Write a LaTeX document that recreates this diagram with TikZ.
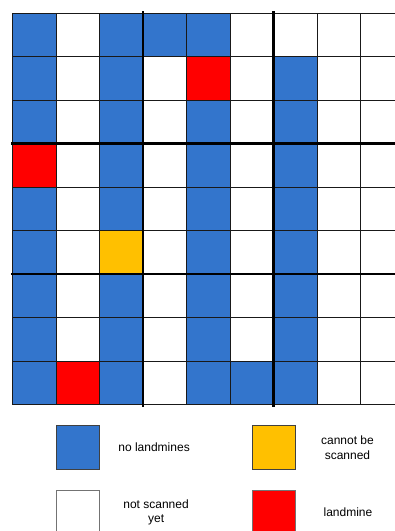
\documentclass[tikz,border=0pt]{standalone}
\usepackage{fontspec}
\setmainfont{Liberation Sans}
\usetikzlibrary{positioning}
\definecolor{caseB}{RGB}{51,117,204}
\definecolor{caseW}{RGB}{255,255,255}
\definecolor{caseR}{RGB}{255,0,0}
\definecolor{caseY}{RGB}{255,192,0}

\begin{document}
\begin{tikzpicture}[x=1pt,y=-1pt,
    trait/.style={black!90, line width=1pt},
    epais/.style={black, line width=2.8pt},
    carre/.style={draw=black!75, line width=0.8pt, minimum size=43.6pt, inner sep=0pt},
    legende/.style={font=\fontsize{12}{14.5}\selectfont, align=center, inner sep=0pt}]
    \useasboundingbox (0,0) rectangle (395,531);
    \clip (0,0) rectangle (395,531);

    % Grille 9x9
    \begin{scope}[shift={(12.5,13)}]
        \foreach \ligne [count=\r from 0] in {
            {B,W,B,B,B,W,W,W,W},
            {B,W,B,W,R,W,B,W,W},
            {B,W,B,W,B,W,B,W,W},
            {R,W,B,W,B,W,B,W,W},
            {B,W,B,W,B,W,B,W,W},
            {B,W,Y,W,B,W,B,W,W},
            {B,W,B,W,B,W,B,W,W},
            {B,W,B,W,B,W,B,W,W},
            {B,R,B,W,B,B,B,W,W}}
            \foreach \c [count=\k from 0] in \ligne
                \fill[fill=case\c] (\k*43.5,\r*43.5) rectangle ++(43.5,43.5);

        % Traits fins
        \foreach \i in {0,...,9} {
            \draw[trait] (\i*43.5,0) -- (\i*43.5,391.5);
            \draw[trait] (0,\i*43.5) -- (391.5,\i*43.5);
        }
        % Traits épais des blocs
        \foreach \i in {3,6} {
            \draw[epais] (\i*43.5,-2) -- (\i*43.5,393.5);
            \draw[epais] (-1.5,\i*43.5) -- (393.5,\i*43.5);
        }
    \end{scope}

    % Légende
    \node[carre, fill=caseB] (bleu) at (78,447.5) {};
    \node[carre, fill=caseY] (jaune) at (273.7,447.5) {};
    \node[carre, fill=caseW, draw=black!55] (blanc) at (78,512.5) {};
    \node[carre, fill=caseR, draw=black!55] (rouge) at (273.7,512.5) {};

    \node[legende, right=18pt of bleu] (txtBleu) {no landmines};
    \node[legende, right=25pt of jaune] (txtJaune) {cannot be\\ scanned};
    \node[legende, right=23pt of blanc] (txtBlanc) {not scanned\\ yet};
    \node[legende, right=27.5pt of rouge] (txtRouge) {landmine};
\end{tikzpicture}
\end{document}
